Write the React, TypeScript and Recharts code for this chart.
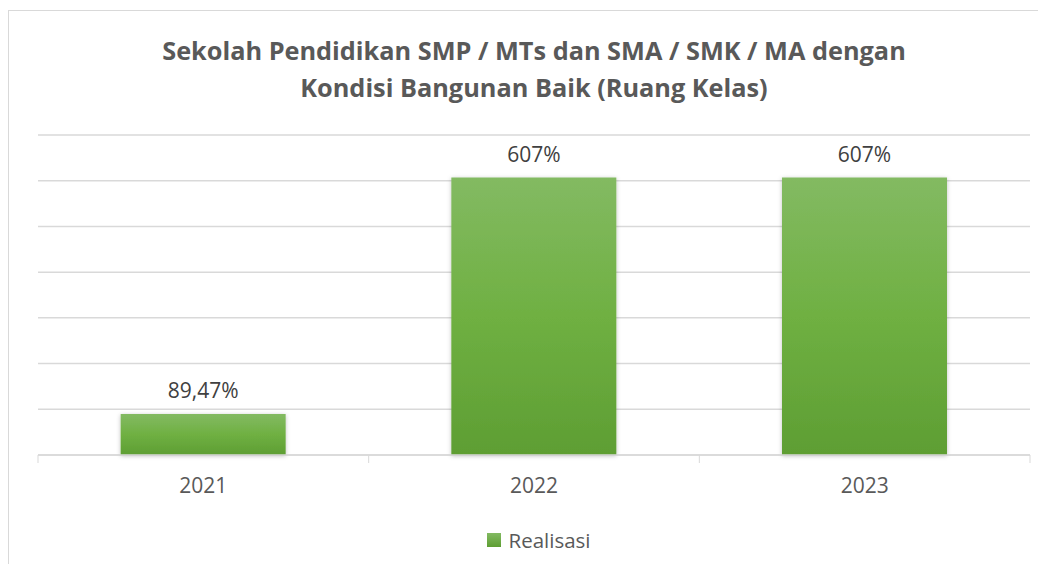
import React from "react";
import { BarChart, Bar, XAxis, YAxis, CartesianGrid, LabelList } from "recharts";

const years = ["2021", "2022", "2023"];
const realisasi = [89.47, 607, 607];
const valueLabels = ["89,47%", "607%", "607%"];
const yTicks = [0, 100, 200, 300, 400, 500, 600, 700];
const titleLines = [
  "Sekolah Pendidikan SMP / MTs dan SMA / SMK / MA dengan",
  "Kondisi Bangunan Baik (Ruang Kelas)",
];
const seriesName = "Realisasi";

const data = years.map((y, i) => ({ year: y, value: realisasi[i], label: valueLabels[i] }));

const FONT = "'Open Sans', 'Noto Sans', sans-serif";

const BoundaryTick = (props: any) => {
  const { x, y, payload, index, visibleTicksCount, width } = props;
  const half = width / visibleTicksCount / 2;
  return (
    <g>
      <line x1={x - half} x2={x - half} y1={y} y2={y + 8} stroke="#d9d9d9" strokeWidth={1} />
      {index === visibleTicksCount - 1 && (
        <line x1={x + half} x2={x + half} y1={y} y2={y + 8} stroke="#d9d9d9" strokeWidth={1} />
      )}
      <text x={x} y={y + 38} textAnchor="middle" fill="#595959" fontSize={21} fontFamily={FONT}>
        {payload.value}
      </text>
    </g>
  );
};

export default function App() {
  return (
    <div style={{ position: "relative", width: 1038, height: 556, overflow: "hidden", fontFamily: FONT }}>
      <div
        style={{
          position: "absolute",
          left: 0,
          top: 2,
          width: 1060,
          height: 600,
          border: "1px solid #d9d9d9",
          boxSizing: "border-box",
        }}
      />
      <div
        style={{
          position: "absolute",
          left: 30,
          width: 992,
          top: 24,
          textAlign: "center",
          color: "#595959",
          fontWeight: 700,
          fontSize: 25.3,
          lineHeight: "37px",
        }}
      >
        {titleLines.map((t) => (
          <div key={t}>{t}</div>
        ))}
      </div>
      <BarChart
        width={1038}
        height={556}
        data={data}
        margin={{ top: 127, right: 16, left: 30, bottom: 49 }}
        barCategoryGap="25%"
        style={{ position: "absolute", left: 0, top: 0 }}
      >
        <defs>
          <linearGradient id="greenGrad" x1="0" y1="0" x2="0" y2="1">
            <stop offset="0%" stopColor="#83BA62" />
            <stop offset="50%" stopColor="#6FB042" />
            <stop offset="100%" stopColor="#5E9E33" />
          </linearGradient>
          <filter id="barShadow" x="-10%" y="-10%" width="120%" height="130%">
            <feDropShadow dx="0" dy="1" stdDeviation="2" floodColor="#000" floodOpacity="0.25" />
          </filter>
        </defs>
        <CartesianGrid vertical={false} stroke="#d9d9d9" strokeWidth={1.5} />
        <YAxis hide domain={[0, 700]} ticks={yTicks} />
        <XAxis
          dataKey="year"
          height={60}
          axisLine={{ stroke: "#d9d9d9", strokeWidth: 1.5 }}
          tickLine={false}
          tickSize={0}
          tickMargin={0}
          tick={<BoundaryTick />}
          interval={0}
        />
        <Bar
          dataKey="value"
          name={seriesName}
          fill="url(#greenGrad)"
          filter="url(#barShadow)"
          isAnimationActive={false}
        >
          <LabelList
            dataKey="label"
            position="top"
            offset={16}
            fill="#404040"
            fontSize={21}
            fontFamily={FONT}
          />
        </Bar>
      </BarChart>
      <div
        style={{
          position: "absolute",
          left: 12,
          width: 1038,
          top: 518,
          display: "flex",
          justifyContent: "center",
          alignItems: "center",
          color: "#595959",
          fontSize: 20.5,
          lineHeight: "28px",
        }}
      >
        <span
          style={{
            display: "inline-block",
            width: 14,
            height: 14,
            background: "linear-gradient(#83BA62, #5E9E33)",
            marginRight: 7,
          }}
        />
        <span>{seriesName}</span>
      </div>
    </div>
  );
}
